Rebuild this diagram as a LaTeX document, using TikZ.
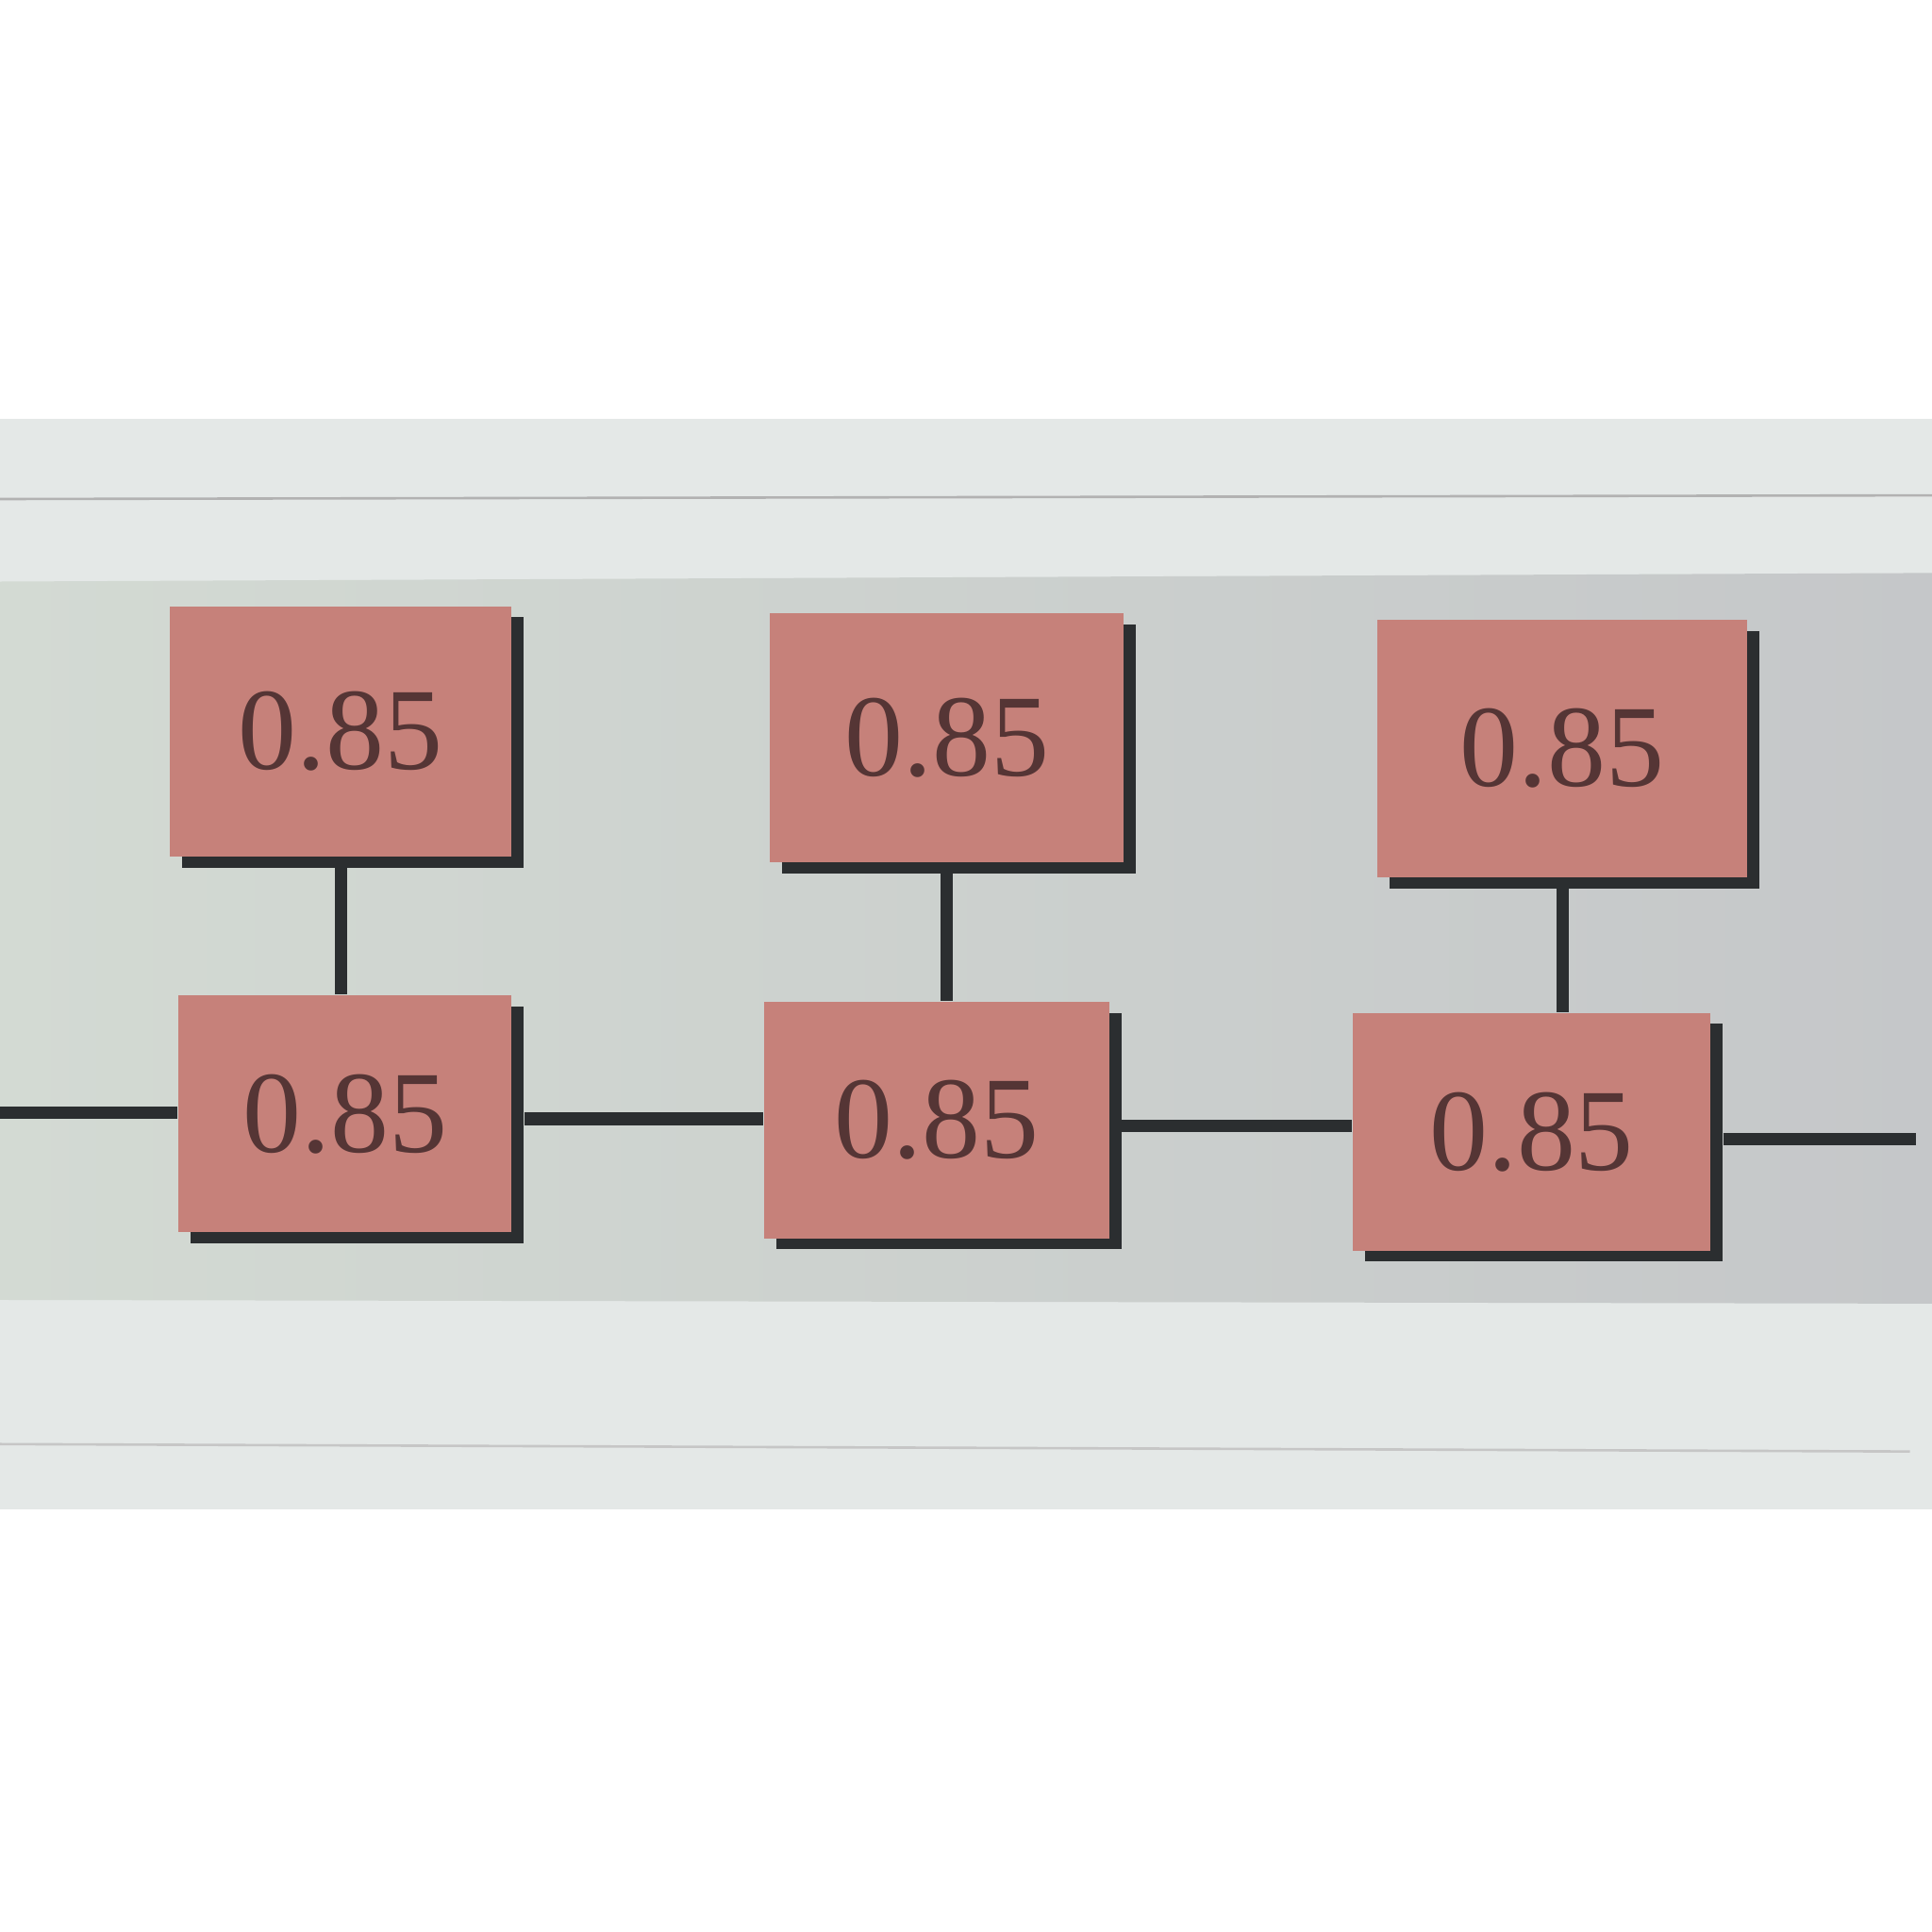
\documentclass[tikz,border=0pt]{standalone}
\usepackage{fontspec}
\setmainfont{Liberation Serif}
\usetikzlibrary{shadows}
\definecolor{boxfill}{HTML}{C6817A}
\definecolor{txt}{HTML}{553535}
\definecolor{band}{HTML}{E4E8E7}
\definecolor{areaL}{HTML}{D3DAD3}
\definecolor{areaR}{HTML}{C5C7C9}
\definecolor{wire}{HTML}{2B2E30}
\tikzset{
  box/.style={rectangle, fill=boxfill, text=txt, inner sep=0pt,
    font=\fontsize{27}{30}\selectfont,
    drop shadow={shadow xshift=1mm, shadow yshift=-0.9mm, fill=wire, opacity=1}},
  wireline/.style={draw=wire, line width=1mm}
}
\begin{document}
\begin{tikzpicture}[x=0.1mm, y=-0.1mm]
\useasboundingbox (0,0) rectangle (1568,1568);
\fill[white] (0,0) rectangle (1568,1568);
\fill[band] (0,340) rectangle (1568,1225);
\draw[gray!60, line width=0.2mm] (0,405) -- (1568,402);
\draw[gray!45, line width=0.2mm] (0,1172) -- (1550,1178);
\shade[left color=areaL, right color=areaR] (0,472) -- (1568,465) -- (1568,1058) -- (0,1055) -- cycle;
% nodes
\node[box, minimum width=27.7mm, minimum height=20.3mm] (T1) at (276.5,593.5) {0.85};
\node[box, minimum width=28.7mm, minimum height=20.2mm] (T2) at (768.5,599) {0.85};
\node[box, minimum width=30.0mm, minimum height=20.9mm] (T3) at (1268,607.5) {0.85};
\node[box, minimum width=27.0mm, minimum height=19.2mm] (B1) at (280,904) {0.85};
\node[box, minimum width=28.0mm, minimum height=19.2mm] (B2) at (760,909) {0.85};
\node[box, minimum width=29.0mm, minimum height=19.3mm] (B3) at (1243,918.5) {0.85};
\coordinate (L) at (0,903);
\coordinate (R) at (1555,925);
% connectors
\draw[wireline] ([yshift=-0.8mm]T1.south) -- (T1.south |- B1.north);
\draw[wireline] ([yshift=-0.8mm]T2.south) -- (T2.south |- B2.north);
\draw[wireline] ([yshift=-0.8mm]T3.south) -- (T3.south |- B3.north);
\draw[wireline] (L) -- (B1.west |- L);
\draw[wireline] ([xshift=1mm,yshift=-0.4mm]B1.east) -- ([yshift=-0.4mm]B1.east -| B2.west);
\draw[wireline] ([xshift=1mm,yshift=-0.5mm]B2.east) -- ([yshift=-0.5mm]B2.east -| B3.west);
\draw[wireline] ([xshift=1mm,yshift=-0.6mm]B3.east) -- ([yshift=-0.6mm]B3.east -| R);
\end{tikzpicture}
\end{document}
